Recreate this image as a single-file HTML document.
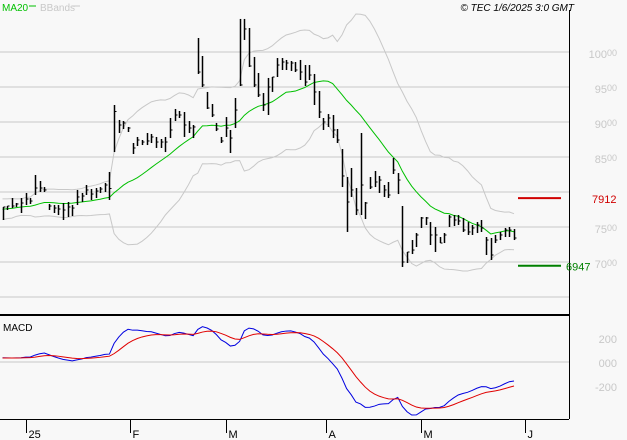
<!DOCTYPE html>
<html><head><meta charset="utf-8"><style>
html,body{margin:0;padding:0;background:#f8f8f8;}
svg{display:block;font-family:"Liberation Sans",sans-serif;}
</style></head><body>
<svg id="chart" width="627" height="440" viewBox="0 0 627 440" xmlns="http://www.w3.org/2000/svg">
<rect x="0" y="0" width="627" height="440" fill="#f8f8f8"/>
<g id="grid"></g>
<g id="bands"></g>
<g id="ma"></g>
<g id="bars"></g>
<g id="macd"></g>
<g id="axes"></g>
<text x="2" y="11" font-size="10" fill="#00c000">MA20</text>
<line x1="29" y1="6" x2="36" y2="6" stroke="#00c000" stroke-width="1"/>
<text x="40" y="11" font-size="10" fill="#c8c8c8">BBands</text>
<line x1="72" y1="6" x2="80" y2="6" stroke="#c8c8c8" stroke-width="1"/>
<text x="574" y="11" font-size="10" font-style="italic" text-anchor="end" fill="#000">© TEC 1/6/2025 3:0 GMT</text>
<text x="3" y="331" font-size="10" fill="#000">MACD</text>
</svg>
<script>
const hi=[7786,7800,7914,7843,7914,7986,7914,8243,8157,8071,7829,7814,7814,7843,7857,7814,8029,7986,8100,8043,8057,8071,8129,8286,9243,9029,9014,8929,8700,8786,8743,8843,8829,8786,8757,8786,9057,9186,9157,9143,9014,8957,10200,9943,9429,9257,8986,8786,9071,8886,9343,10472,10472,10343,9929,9700,9414,9629,9643,9914,9914,9886,9871,9857,9886,9814,9814,9686,9443,9057,9114,9100,8900,8614,8214,8343,8057,8843,7857,8214,8300,8229,8100,8143,8486,8271,7800,7143,7314,7414,7643,7643,7571,7500,7357,7414,7671,7671,7671,7629,7571,7529,7571,7600,7357,7343,7386,7429,7486,7500,7471];
const lo=[7600,7743,7771,7786,7700,7814,7829,7957,8000,8000,7743,7700,7671,7600,7643,7657,7814,7857,7957,7886,7914,7986,8000,7886,8571,8843,8900,8857,8543,8657,8671,8671,8700,8629,8629,8571,8771,9014,9057,8786,8843,8771,9686,9500,9186,9071,8871,8700,8786,8557,8914,9514,10172,9786,9500,9357,9157,9100,9429,9643,9743,9743,9729,9714,9600,9514,9600,9243,9057,8886,8929,8771,8700,8071,7429,7929,7671,7671,7614,8043,8071,7986,7929,7914,8257,7971,6929,6986,7114,7214,7486,7529,7243,7143,7271,7271,7500,7514,7529,7429,7386,7386,7414,7429,7100,7029,7271,7314,7357,7357,7314];
const cl=[7786,7800,7800,7829,7843,7900,7871,8057,8057,8029,7800,7771,7757,7743,7786,7771,7929,7943,8029,7971,8014,8043,8100,8050,9150,8957,8986,8914,8629,8743,8714,8729,8786,8714,8714,8714,8886,9100,9100,8957,8914,8929,9714,9529,9200,9100,8900,8729,8914,8771,9171,9529,10329,9800,9529,9386,9243,9500,9643,9814,9857,9843,9843,9743,9714,9571,9671,9429,9143,9000,9057,8886,8743,8229,7857,8029,7743,8100,7843,8071,8143,8171,8029,7957,8314,8171,7000,7143,7171,7386,7629,7629,7386,7386,7271,7386,7643,7600,7586,7457,7429,7486,7529,7486,7314,7100,7314,7386,7457,7457,7343];
const priorCloses=[7650,7700,7620,7680,7750,7800,7720,7650,7700,7780,7850,7900,7820,7760,7700,7740,7800,7850,7820];
const priceTicks=[10000,9500,9000,8500,7500,7000];
const gridVals=[10000,9500,9000,8500,8000,7500,7000,6500];
const macdTicks=[200,0,-200];
const macdTickLabels=["200","000","-200"];
const monthLabels=["25","F","M","A","M","J"];
const monthIdx=[5,27.4,48,69.6,90,112.4];
const levelHigh=7912, levelLow=6947;

const NS="http://www.w3.org/2000/svg";
function el(tag,attrs,parent){const e=document.createElementNS(NS,tag);for(const k in attrs)e.setAttribute(k,attrs[k]);parent.appendChild(e);return e;}
const xs=i=>2.5+i*4.65;
const ys=v=>52+(10000-v)*0.07;
const ym=v=>362-v*0.12;

const grid=document.getElementById('grid');
gridVals.forEach(v=>{const l=el('line',{x1:0,x2:569,y1:ys(v),y2:ys(v),stroke:'#c8c8c8','stroke-width':1},grid);

});

const all=priorCloses.concat(cl);const P=priorCloses.length;
const ma=[],up=[],dn=[];
for(let i=0;i<cl.length;i++){const j=i+P;const s=Math.max(0,j-19);const w=all.slice(s,j+1);
const m=w.reduce((a,b)=>a+b,0)/w.length;const sd=Math.sqrt(w.reduce((a,b)=>a+(b-m)*(b-m),0)/w.length);
ma.push(m);up.push(m+2*sd);dn.push(m-2*sd);}
const bands=document.getElementById('bands');
[up,dn].forEach((arr,k)=>{const p=el('polyline',{points:arr.map((v,i)=>xs(i)+','+ys(v)).join(' '),fill:'none',stroke:'#c8c8c8','stroke-width':1},bands);

});
const maL=el('polyline',{points:ma.map((v,i)=>xs(i)+','+ys(v)).join(' '),fill:'none',stroke:'#00c000','stroke-width':1},document.getElementById('ma'));



const bars=document.getElementById('bars');
for(let i=0;i<cl.length;i++){const x=Math.round(xs(i))+0.5;
const b=el('line',{x1:x,x2:x,y1:ys(hi[i]),y2:ys(lo[i]),stroke:'#000','stroke-width':1.5},bars);


const t=el('line',{x1:x,x2:x+2,y1:ys(cl[i]),y2:ys(cl[i]),stroke:'#000','stroke-width':1},bars);

}

function ema(arr,n){const k=2/(n+1);const o=[];let e=arr[0];arr.forEach(v=>{e=v*k+e*(1-k);o.push(e);});return o;}
const e12=ema(all,12),e26=ema(all,26);
const macdAll=e12.map((v,i)=>v-e26[i]);const sigAll=ema(macdAll,9);
const macdV=macdAll.slice(P),sigV=sigAll.slice(P);
const mg=document.getElementById('macd');
const z=el('line',{x1:0,x2:569,y1:ym(0),y2:ym(0),stroke:'#c8c8c8','stroke-width':1},mg);


const ml=el('polyline',{points:macdV.map((v,i)=>xs(i)+','+ym(v)).join(' '),fill:'none',stroke:'#0000e0','stroke-width':1},mg);


const sl=el('polyline',{points:sigV.map((v,i)=>xs(i)+','+ym(v)).join(' '),fill:'none',stroke:'#e00000','stroke-width':1},mg);



const ax=document.getElementById('axes');
const a1=el('line',{x1:569.5,x2:569.5,y1:10,y2:419,stroke:'#000','stroke-width':1},ax);


const a2=el('line',{x1:0,x2:569,y1:315,y2:315,stroke:'#000','stroke-width':2},ax);


const a3=el('line',{x1:0,x2:569,y1:419.5,y2:419.5,stroke:'#000','stroke-width':1},ax);


priceTicks.forEach(v=>{const t=el('text',{x:617,y:ys(v)+6,'font-size':11,fill:'#c8c8c8','text-anchor':'end'},ax);
const s=String(v);t.textContent=s.slice(0,s.length-2);
const sp=el('tspan',{'font-size':9,dy:-2},t);sp.textContent=s.slice(-2);

});
macdTicks.forEach((v,k)=>{const t=el('text',{x:617,y:ym(v)+5,'font-size':11,fill:'#c8c8c8','text-anchor':'end'},ax);
t.textContent=macdTickLabels[k];

});
monthIdx.forEach((idx,k)=>{const x=Math.round(xs(idx))+0.5;
const l=el('line',{x1:x,x2:x,y1:419,y2:433,stroke:'#000','stroke-width':1},ax);


const t=el('text',{x:x+2,y:438,'font-size':11,fill:'#000'},ax);t.textContent=monthLabels[k];

});
[[levelHigh,'#d00000'],[levelLow,'#008000']].forEach(([v,c],k)=>{
const l=el('line',{x1:518,x2:561,y1:ys(v),y2:ys(v),stroke:c,'stroke-width':2},ax);


const t=el('text',{x:k?566:592,y:ys(v)+5,'font-size':11,fill:c},ax);t.textContent=String(v);

});
</script>
</body></html>
